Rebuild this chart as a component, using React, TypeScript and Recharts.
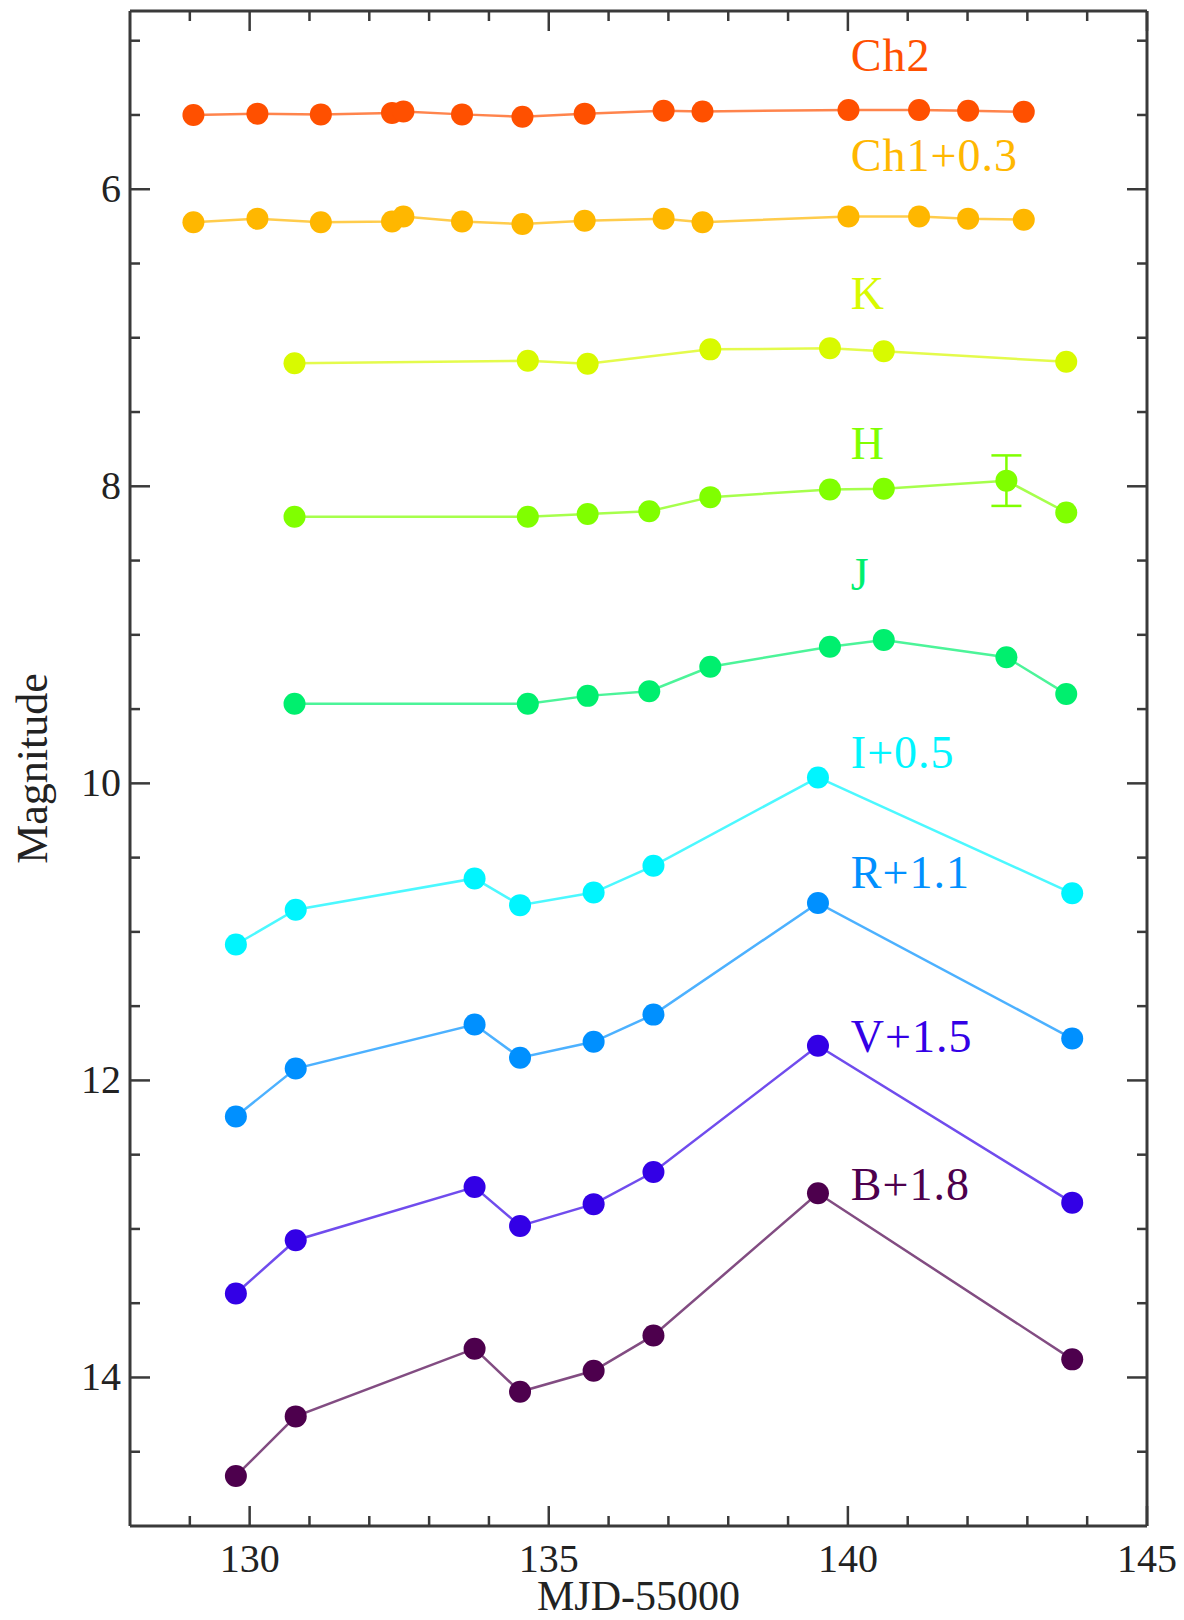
import { ErrorBar, Line, LineChart, ReferenceDot, XAxis, YAxis } from "recharts";

// IRAC channels share one set of epochs (MJD-55000)
const chTimes = [129.06, 130.13, 131.19, 132.38, 132.57, 133.55, 134.56, 135.6, 136.92, 137.57, 140.01, 141.19, 142.01, 142.94];
const ch2Mag = [5.5, 5.491, 5.496, 5.486, 5.476, 5.496, 5.512, 5.491, 5.471, 5.476, 5.467, 5.467, 5.471, 5.479];
const ch1Mag = [6.222, 6.198, 6.222, 6.217, 6.183, 6.217, 6.234, 6.212, 6.198, 6.222, 6.183, 6.183, 6.198, 6.205];

const kTimes = [130.75, 134.65, 135.65, 137.7, 139.7, 140.6, 143.65];
const kMag = [7.172, 7.155, 7.175, 7.078, 7.071, 7.091, 7.162];

const jhTimes = [130.75, 134.65, 135.65, 136.68, 137.7, 139.7, 140.6, 142.65, 143.65];
const hMag = [8.205, 8.205, 8.186, 8.168, 8.073, 8.022, 8.016, 7.962, 8.176];
const hErr = [0, 0, 0, 0, 0, 0, 0, 0.17, 0];
const jMag = [9.464, 9.464, 9.411, 9.38, 9.215, 9.08, 9.035, 9.151, 9.398];

const optTimes = [129.77, 130.77, 133.76, 134.52, 135.75, 136.75, 139.5, 143.75];
const iMag = [11.085, 10.851, 10.64, 10.82, 10.735, 10.555, 9.96, 10.74];
const rMag = [12.243, 11.92, 11.624, 11.847, 11.74, 11.557, 10.805, 11.718];
const vMag = [13.435, 13.076, 12.718, 12.98, 12.833, 12.617, 11.767, 12.823];
const bMag = [14.663, 14.262, 13.806, 14.096, 13.955, 13.717, 12.76, 13.878];

const bandNames = ["Ch2", "Ch1+0.3", "K", "H", "J", "I+0.5", "R+1.1", "V+1.5", "B+1.8"];
const bandColors = ["#ff5000", "#ffb700", "#d8fa00", "#80ff00", "#00ef6e", "#00f5ff", "#0090ff", "#3300e6", "#4d004d"];
const nameMags = [5.204, 5.877, 6.807, 7.817, 8.7, 9.898, 10.706, 11.81, 12.807];
const nameTime = 140.05;

const xTicks = [129, 130, 131, 132, 133, 134, 135, 136, 137, 138, 139, 140, 141, 142, 143, 144, 145];
const yTicks = [5, 5.5, 6, 6.5, 7, 7.5, 8, 8.5, 9, 9.5, 10, 10.5, 11, 11.5, 12, 12.5, 13, 13.5, 14, 14.5];

const pts = (times: number[], mags: number[], errs?: number[]) =>
  times.map((t, i) => ({ t, v: mags[i], err: errs ? errs[i] : 0 }));

const series = [
  pts(chTimes, ch2Mag),
  pts(chTimes, ch1Mag),
  pts(kTimes, kMag),
  pts(jhTimes, hMag, hErr),
  pts(jhTimes, jMag),
  pts(optTimes, iMag),
  pts(optTimes, rMag),
  pts(optTimes, vMag),
  pts(optTimes, bMag),
];

const AXIS = "#3a3a3a";
const SERIF = "'Liberation Serif', 'Times New Roman', serif";
const MAJOR = 20;
const MINOR = 10;

function BottomTick({ x, y, payload }: any) {
  const major = payload.value % 5 === 0;
  return (
    <g>
      <line x1={x} x2={x} y1={y} y2={y - (major ? MAJOR : MINOR)} stroke={AXIS} strokeWidth={2.5} />
      {major && (
        <text x={x} y={y + 46} textAnchor="middle" fontFamily={SERIF} fontSize={40} fill="#222">
          {payload.value}
        </text>
      )}
    </g>
  );
}

function TopTick({ x, y, payload }: any) {
  const major = payload.value % 5 === 0;
  return <line x1={x} x2={x} y1={y} y2={y + (major ? MAJOR : MINOR)} stroke={AXIS} strokeWidth={2.5} />;
}

function LeftTick({ x, y, payload }: any) {
  const major = payload.value % 2 === 0;
  return (
    <g>
      <line x1={x} x2={x + (major ? MAJOR : MINOR)} y1={y} y2={y} stroke={AXIS} strokeWidth={2.5} />
      {major && (
        <text x={x - 9} y={y + 13} textAnchor="end" fontFamily={SERIF} fontSize={40} fill="#222">
          {payload.value}
        </text>
      )}
    </g>
  );
}

function RightTick({ x, y, payload }: any) {
  const major = payload.value % 2 === 0;
  return <line x1={x} x2={x - (major ? MAJOR : MINOR)} y1={y} y2={y} stroke={AXIS} strokeWidth={2.5} />;
}

export default function App() {
  return (
    <div style={{ position: "absolute", left: 0, top: 0, width: 1184, height: 1620, background: "#fff" }}>
      <LineChart width={1184} height={1620} margin={{ top: 10, right: 36, bottom: 0, left: 0 }}>
        <XAxis
          dataKey="t"
          type="number"
          domain={[128, 145]}
          allowDataOverflow
          ticks={xTicks}
          interval={0}
          height={94}
          tickSize={0}
          tickMargin={0}
          tickLine={false}
          tick={<BottomTick />}
          axisLine={{ stroke: AXIS, strokeWidth: 3 }}
          label={{
            value: "MJD-55000",
            position: "insideBottom",
            offset: 10,
            style: { fontFamily: SERIF, fontSize: 42, fill: "#222" },
          }}
        />
        {/* mirror axes close the frame on the top and right */}
        <XAxis
          xAxisId="top"
          orientation="top"
          dataKey="t"
          type="number"
          domain={[128, 145]}
          allowDataOverflow
          ticks={xTicks}
          interval={0}
          height={1}
          tickSize={0}
          tickMargin={0}
          tickLine={false}
          tick={<TopTick />}
          axisLine={{ stroke: AXIS, strokeWidth: 3 }}
        />
        <YAxis
          type="number"
          domain={[4.8, 15]}
          reversed
          allowDataOverflow
          ticks={yTicks}
          interval={0}
          width={130}
          tickSize={0}
          tickMargin={0}
          tickLine={false}
          tick={<LeftTick />}
          axisLine={{ stroke: AXIS, strokeWidth: 3 }}
          label={{
            value: "Magnitude",
            angle: -90,
            position: "insideLeft",
            offset: 31,
            style: { textAnchor: "middle", fontFamily: SERIF, fontSize: 44, fill: "#222" },
          }}
        />
        <YAxis
          yAxisId="right"
          orientation="right"
          type="number"
          domain={[4.8, 15]}
          reversed
          allowDataOverflow
          ticks={yTicks}
          interval={0}
          width={1}
          tickSize={0}
          tickMargin={0}
          tickLine={false}
          tick={<RightTick />}
          axisLine={{ stroke: AXIS, strokeWidth: 3 }}
        />

        {series.map((data, i) => (
          <Line
            key={bandNames[i]}
            data={data}
            dataKey="v"
            stroke={bandColors[i]}
            strokeOpacity={0.7}
            strokeWidth={2.5}
            dot={{ r: 11, fill: bandColors[i], stroke: "none", strokeOpacity: 1 }}
            isAnimationActive={false}
          >
            {bandNames[i] === "H" && (
              <ErrorBar dataKey="err" direction="y" width={15} strokeWidth={2.5} stroke={bandColors[i]} />
            )}
          </Line>
        ))}

        {bandNames.map((name, i) => (
          <ReferenceDot
            key={"lbl-" + name}
            x={nameTime}
            y={nameMags[i]}
            r={1}
            ifOverflow="visible"
            shape={(p: any) => (
              <text
                x={p.cx}
                y={p.cy}
                fontFamily={SERIF}
                fontSize={46}
                letterSpacing={1}
                fill={bandColors[i]}
              >
                {name}
              </text>
            )}
          />
        ))}
      </LineChart>
    </div>
  );
}
